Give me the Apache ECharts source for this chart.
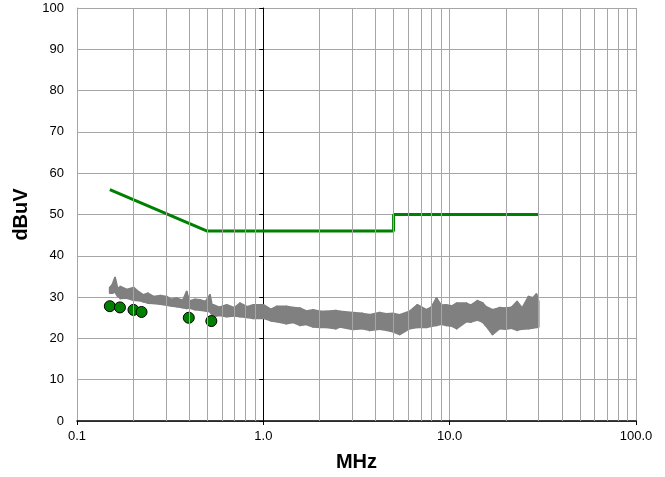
<!DOCTYPE html>
<html><head><meta charset="utf-8">
<script src="https://cdn.jsdelivr.net/npm/echarts@6/dist/echarts.min.js"></script>
<style>html,body{margin:0;padding:0;background:#fff}#c{width:665px;height:477px}</style>
</head><body><div id="c"></div>
<script>
// Limit line (dBuV)
const limitF = [0.15, 0.5, 5, 5, 30];
const limitV = [56, 46, 46, 50, 50];
// Quasi-peak measured points
const qpF = [0.15, 0.17, 0.201, 0.222, 0.398, 0.526];
const qpV = [27.8, 27.5, 26.9, 26.4, 25.0, 24.2];
// Peak scan band (upper / lower envelope)
const scanF = [0.150,0.155,0.160,0.165,0.171,0.185,0.201,0.215,0.227,0.240,0.257,0.280,0.303,0.320,0.343,0.370,0.388,0.400,0.430,0.457,0.490,0.517,0.530,0.539,0.580,0.636,0.700,0.750,0.820,0.883,1.00,1.10,1.18,1.33,1.45,1.57,1.70,1.85,2.01,2.18,2.45,2.57,3.02,3.40,3.71,4.20,4.57,5.00,5.39,6.10,6.70,7.50,8.00,8.50,9.00,9.60,10.3,10.9,12.3,13.0,14.1,15.0,15.6,17.0,18.5,19.9,21.5,23.0,24.5,26.5,28.0,29.2,30.0];
const scanHi = [32.3,33.0,34.7,32.0,32.5,31.8,32.3,31.2,30.5,30.9,30.1,30.3,30.1,29.4,29.7,29.2,31.3,29.0,29.4,29.3,28.9,30.5,28.0,28.1,27.5,28.1,27.4,28.5,27.6,28.1,28.1,27.0,27.7,27.7,27.4,27.3,26.6,26.9,26.5,26.5,26.7,26.5,26.2,26.0,25.7,26.2,25.9,26.0,25.7,26.5,28.1,26.9,27.6,29.7,28.0,28.1,27.8,28.5,28.5,28.0,29.1,28.6,27.7,26.9,27.4,27.3,27.5,28.9,27.3,30.1,29.8,30.7,29.0];
const scanLo = [31.0,31.0,31.3,30.3,29.7,29.8,29.3,29.2,28.9,28.6,28.5,28.3,28.1,27.9,27.7,27.5,27.3,27.4,27.0,26.9,26.7,26.5,25.8,25.3,25.6,25.3,25.5,25.3,25.1,24.9,24.9,24.3,24.1,23.6,23.9,23.2,23.4,22.8,22.7,22.7,22.4,22.8,22.2,22.4,22.0,22.3,22.0,21.6,21.0,22.4,22.7,22.7,23.0,23.2,23.5,23.2,23.0,22.4,24.1,24.0,24.5,24.0,23.2,21.0,22.4,22.3,22.5,22.0,22.3,22.4,22.6,22.7,22.8];
// Axis ticks
const xMajor = [0.1, 1, 10, 100];
const xMinor = [0.2,0.3,0.4,0.5,0.6,0.7,0.8,0.9,2,3,4,5,6,7,8,9,20,30,40,50,60,70,80,90];
const yTicks = [0,10,20,30,40,50,60,70,80,90,100];

const FONT = 'Liberation Sans, Arial, sans-serif';
const GRIDC = '#a6a6a6';
const grid = {left: 77, right: 29, top: 8, bottom: 56};
const gridW = 665 - grid.left - grid.right;

// band segments: each item is a quad between consecutive scan points
const bandData = scanF.slice(0, -1).map((f, i) =>
  [f, scanHi[i], scanLo[i], scanF[i+1], scanHi[i+1], scanLo[i+1]]);

const chart = echarts.init(document.getElementById('c'));
chart.setOption({
  animation: false,
  backgroundColor: '#fff',
  grid: grid,
  xAxis: {
    type: 'log', logBase: 10, min: xMajor[0], max: xMajor[xMajor.length-1],
    name: 'MHz', nameLocation: 'middle', nameGap: 31,
    nameTextStyle: {fontFamily: FONT, fontSize: 20, fontWeight: 'bold', color: '#000'},
    axisLine: {lineStyle: {color: '#000', width: 1.5}},
    axisTick: {show: true, length: 4, lineStyle: {color: '#000'}},
    axisLabel: {fontFamily: FONT, fontSize: 13, color: '#000', margin: 9,
      formatter: v => Number(v).toFixed(1)},
    splitLine: {show: true, lineStyle: {color: GRIDC, width: 1}}
  },
  yAxis: [{
    type: 'value', min: yTicks[0], max: yTicks[yTicks.length-1], interval: 10,
    name: 'dBuV', nameLocation: 'middle', nameGap: 46,
    nameTextStyle: {fontFamily: FONT, fontSize: 20, fontWeight: 'bold', color: '#000'},
    axisLine: {show: true, lineStyle: {color: GRIDC}},
    axisTick: {show: false},
    axisLabel: {fontFamily: FONT, fontSize: 13, color: '#000', margin: 13},
    splitLine: {show: true, lineStyle: {color: GRIDC, width: 1}}
  }, {
    type: 'value', min: yTicks[0], max: yTicks[yTicks.length-1], interval: 10,
    position: 'left', offset: -gridW / 3,
    axisLine: {show: true, lineStyle: {color: '#000', width: 1}},
    axisTick: {show: true, length: 4, lineStyle: {color: '#000'}},
    axisLabel: {show: false},
    splitLine: {show: false}
  }],
  series: [
    {
      type: 'line', name: 'minor', data: [], silent: true,
      markLine: {silent: true, symbol: 'none', label: {show: false},
        lineStyle: {color: GRIDC, width: 1, type: 'solid'},
        data: xMinor.map(v => ({xAxis: v}))}
    },
    {
      type: 'custom', silent: true,
      data: bandData,
      encode: {x: [0, 3], y: [1, 2, 4, 5]},
      renderItem: function (params, api) {
        const a = api.coord([api.value(0), api.value(1)]);
        const b = api.coord([api.value(3), api.value(4)]);
        const c = api.coord([api.value(3), api.value(5)]);
        const d = api.coord([api.value(0), api.value(2)]);
        return {
          type: 'polygon',
          shape: {points: [a, b, c, d]},
          style: {fill: '#808080', stroke: '#808080', lineWidth: 2, lineJoin: 'round'}
        };
      }
    },
    {
      type: 'line', symbol: 'none', silent: true,
      data: limitF.map((f, i) => [f, limitV[i]]),
      lineStyle: {color: '#008000', width: 3}
    },
    {
      type: 'scatter', symbol: 'circle', symbolSize: 11,
      data: qpF.map((f, i) => [f, qpV[i]]),
      itemStyle: {color: '#008000', borderColor: '#000', borderWidth: 1, opacity: 1}
    }
  ]
});
</script></body></html>
